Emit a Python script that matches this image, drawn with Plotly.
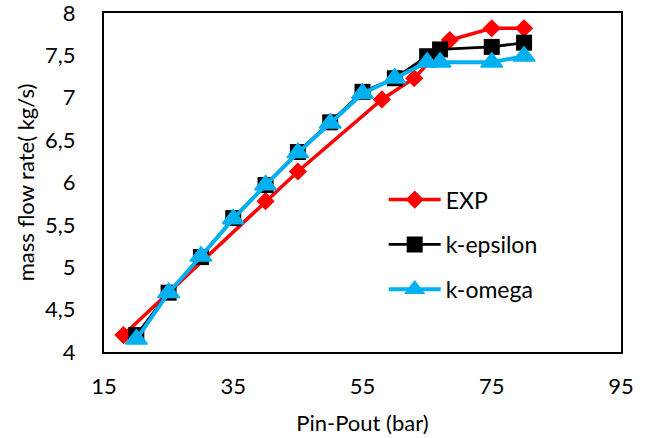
import plotly.graph_objects as go

# Data
exp_x = [18, 40, 45, 58, 63, 68.5, 75, 80]
exp_y = [4.20, 5.78, 6.13, 6.98, 7.23, 7.68, 7.82, 7.82]

keps_x = [20, 25, 30, 35, 40, 45, 50, 55, 60, 65, 67, 75, 80]
keps_y = [4.20, 4.70, 5.12, 5.58, 5.97, 6.36, 6.71, 7.07, 7.23, 7.49, 7.57, 7.60, 7.65]

komg_x = [20, 25, 30, 35, 40, 45, 50, 55, 60, 65, 67, 75, 80]
komg_y = [4.15, 4.70, 5.13, 5.57, 5.97, 6.35, 6.70, 7.05, 7.23, 7.42, 7.42, 7.42, 7.49]

x_ticks = [15, 35, 55, 75, 95]
y_ticks = [4, 4.5, 5, 5.5, 6, 6.5, 7, 7.5, 8]

FONT = "Lato"

fig = go.Figure()
fig.add_trace(go.Scatter(x=exp_x, y=exp_y, name="EXP", mode="lines+markers",
                         legendgroup="a",
                         line=dict(color="#FF0000", width=3.5),
                         marker=dict(symbol="diamond", size=14, color="#FF0000")))
fig.add_trace(go.Scatter(x=keps_x, y=keps_y, name="k-epsilon", mode="lines+markers",
                         legendgroup="b",
                         line=dict(color="#000000", width=2.75),
                         marker=dict(symbol="square", size=16, color="#000000")))
fig.add_trace(go.Scatter(x=komg_x, y=komg_y, name="k-omega", mode="lines+markers",
                         legendgroup="c",
                         line=dict(color="#00B0F0", width=4),
                         marker=dict(symbol="triangle-up", size=19, color="#00B0F0",
                                     line=dict(color="#00B0F0", width=1.5))))

fig.update_layout(
    width=650, height=438,
    margin=dict(l=104, r=29, t=13, b=86),
    paper_bgcolor="white", plot_bgcolor="white",
    separators=", ",
    font=dict(family=FONT, size=22, color="#000000"),
    showlegend=True,
    legend=dict(x=0.541, y=0.513, xanchor="left", yanchor="top",
                bgcolor="rgba(0,0,0,0)", tracegroupgap=12,
                font=dict(family=FONT, size=23, color="#000000"),
                itemwidth=52),
    xaxis=dict(range=[15, 95], tickvals=x_ticks, showgrid=False, zeroline=False,
               showline=True, linecolor="#000000", linewidth=2, mirror=True,
               ticks="", ticklabelstandoff=14, ticklabeloverflow="allow",
               automargin=False,
               title=dict(text="Pin-Pout (bar)", standoff=17,
                          font=dict(family=FONT, size=22))),
    yaxis=dict(range=[4, 8], tickvals=y_ticks, showgrid=False, zeroline=False,
               showline=True, linecolor="#000000", linewidth=2, mirror=True,
               ticks="", ticklabelstandoff=22, ticklabeloverflow="allow",
               automargin=False,
               title=dict(text="mass flow rate( kg/s)", standoff=4,
                          font=dict(family=FONT, size=22))),
)

fig.write_html("out.html")
